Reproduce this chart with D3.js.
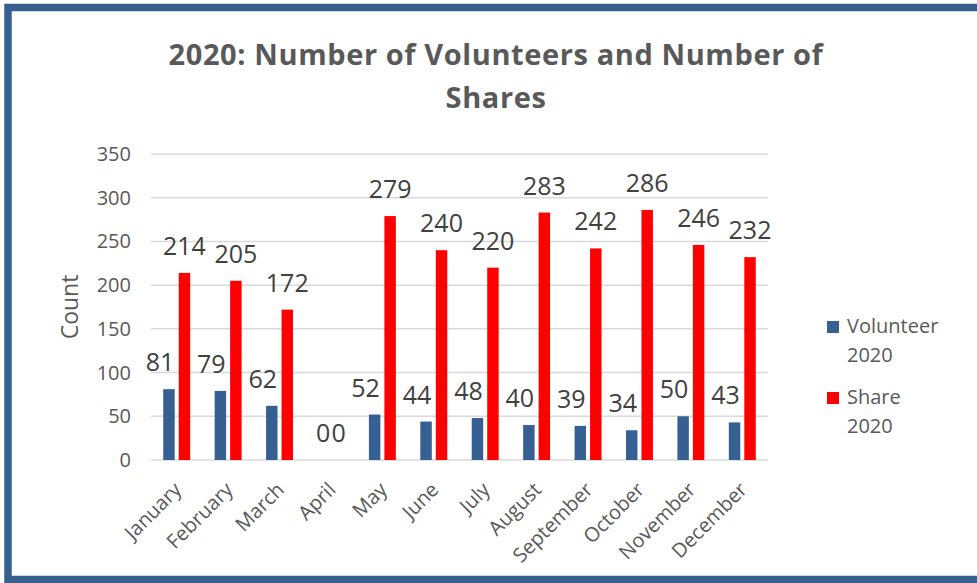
<!DOCTYPE html>
<html lang="en">
<head>
    <style>
        body { margin: 0; background: #fff; }
        text { font-family: "Open Sans", sans-serif; }
        .grid line { stroke: #d9d9d9; stroke-width: 1.5; }
        .tick-label { fill: #595959; font-size: 20px; }
        .val { fill: #404040; font-size: 25px; text-anchor: middle; }
    </style>
    <script src="https://d3js.org/d3.v7.min.js"></script>
</head>
<body>
    <svg width="977" height="583"></svg>
    <script>
        var months = ["January", "February", "March", "April", "May", "June",
                      "July", "August", "September", "October", "November", "December"];
        var volunteer = [81, 79, 62, 0, 52, 44, 48, 40, 39, 34, 50, 43];
        var share = [214, 205, 172, 0, 279, 240, 220, 283, 242, 286, 246, 232];
        var seriesNames = ["Volunteer 2020", "Share 2020"];
        var yTicks = [0, 50, 100, 150, 200, 250, 300, 350];

        var colors = ["#376092", "#ff0000"];
        var series = [volunteer, share];

        var svg = d3.select("svg");

        // frame
        svg.append("rect")
            .attr("x", 8).attr("y", 7.5)
            .attr("width", 1000).attr("height", 572)
            .attr("fill", "none")
            .attr("stroke", "#36608f")
            .attr("stroke-width", 7.5);

        // title
        var title = svg.append("text")
            .attr("text-anchor", "middle")
            .attr("fill", "#595959")
            .attr("font-size", "29px")
            .attr("font-weight", "bold")
            .attr("letter-spacing", "0.6px");
        title.append("tspan").attr("x", 496).attr("y", 65)
            .text("2020: Number of Volunteers and Number of");
        title.append("tspan").attr("x", 496).attr("y", 108)
            .text("Shares");

        var x = d3.scaleBand().domain(months).range([151, 768]);
        var sub = d3.scaleBand().domain([0, 1])
            .range([0, x.bandwidth()])
            .paddingInner(0.26).paddingOuter(0.79);
        var y = d3.scaleLinear().domain([0, 350]).range([460, 154]);

        // gridlines
        svg.append("g").attr("class", "grid")
            .selectAll("line")
            .data(yTicks)
            .enter().append("line")
            .attr("x1", 151).attr("x2", 768)
            .attr("y1", function(d) { return y(d); })
            .attr("y2", function(d) { return y(d); });

        // y axis labels
        svg.append("g")
            .selectAll("text")
            .data(yTicks)
            .enter().append("text")
            .attr("class", "tick-label")
            .attr("text-anchor", "end")
            .attr("x", 131)
            .attr("y", function(d) { return y(d); })
            .attr("dy", "0.35em")
            .text(function(d) { return d; });

        svg.append("text")
            .attr("class", "tick-label")
            .attr("text-anchor", "middle")
            .attr("transform", "translate(78," + y(175) + ") rotate(-90)")
            .style("font-size", "23px")
            .text("Count");

        // x axis labels
        svg.append("g")
            .selectAll("text")
            .data(months)
            .enter().append("text")
            .attr("class", "tick-label")
            .attr("text-anchor", "end")
            .attr("transform", function(d) {
                return "translate(" + (x(d) + x.bandwidth() / 2 + 6) + ",491) rotate(-45)";
            })
            .text(function(d) { return d; });

        // bars and labels
        series.forEach(function(vals, s) {
            var g = svg.append("g");
            g.selectAll("rect")
                .data(vals)
                .enter().append("rect")
                .attr("x", function(d, i) { return x(months[i]) + sub(s); })
                .attr("y", function(d) { return y(d); })
                .attr("width", sub.bandwidth())
                .attr("height", function(d) { return y(0) - y(d); })
                .attr("fill", colors[s]);

            g.selectAll("text")
                .data(vals)
                .enter().append("text")
                .attr("class", "val")
                .attr("x", function(d, i) {
                    var shift = (s === 0 && d > 0) ? -9 : 0;
                    return x(months[i]) + sub(s) + sub.bandwidth() / 2 + shift;
                })
                .attr("y", function(d) { return y(d) - 18; })
                .text(function(d) { return d; });
        });

        // legend
        var legend = svg.append("g")
            .selectAll("g")
            .data(seriesNames)
            .enter().append("g")
            .attr("transform", function(d, i) { return "translate(827," + (321 + i * 71) + ")"; });
        legend.append("rect")
            .attr("width", 12).attr("height", 12)
            .attr("fill", function(d, i) { return colors[i]; });
        var lt = legend.append("text")
            .attr("class", "tick-label");
        lt.append("tspan").attr("x", 20).attr("y", 12)
            .text(function(d) { return d.split(" ")[0]; });
        lt.append("tspan").attr("x", 20).attr("y", 41)
            .text(function(d) { return d.split(" ")[1]; });
    </script>
</body>
</html>
